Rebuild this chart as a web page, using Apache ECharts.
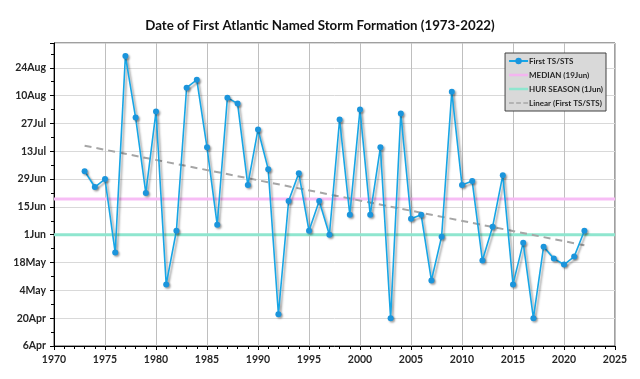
<!DOCTYPE html>
<html><head><meta charset="utf-8">
<script src="https://cdn.jsdelivr.net/npm/echarts@6/dist/echarts.min.js"></script>
<style>html,body{margin:0;padding:0;background:#fff}#c{width:640px;height:379px}</style>
</head><body><div id="c"></div>
<script>
var years = [1973,1974,1975,1976,1977,1978,1979,1980,1981,1982,1983,1984,1985,1986,1987,1988,1989,1990,1991,1992,1993,1994,1995,1996,1997,1998,1999,2000,2001,2002,2003,2004,2005,2006,2007,2008,2009,2010,2011,2012,2013,2014,2015,2016,2017,2018,2019,2020,2021,2022];
var firstDates = ["3Jul","25Jun","29Jun","23May","30Aug","30Jul","22Jun","2Aug","7May","3Jun","14Aug","18Aug","15Jul","6Jun","9Aug","6Aug","26Jun","24Jul","4Jul","22Apr","18Jun","2Jul","3Jun","18Jun","1Jun","29Jul","11Jun","3Aug","11Jun","15Jul","20Apr","1Aug","9Jun","11Jun","9May","31May","12Aug","26Jun","28Jun","19May","5Jun","1Jul","7May","28May","20Apr","26May","20May","17May","21May","3Jun"];
var medianDate = "19Jun";
var seasonDate = "1Jun";
var axisStart = "6Apr";
var MONTHS = ["Jan","Feb","Mar","Apr","May","Jun","Jul","Aug","Sep","Oct","Nov","Dec"];
function toDate(s){var m=s.match(/^(\d+)([A-Za-z]+)$/);return new Date(2021,MONTHS.indexOf(m[2]),+m[1]);}
var base = toDate(axisStart);
function dayOf(s){return Math.round((toDate(s)-base)/86400000);}
function fmt(v){var d=new Date(2021,3,6+Math.round(v));return d.getDate()+MONTHS[d.getMonth()];}
var pts = years.map(function(y,i){return [y, dayOf(firstDates[i])];});
// least-squares trend from the data
var n=pts.length,sx=0,sy=0,sxx=0,sxy=0;
pts.forEach(function(p){sx+=p[0];sy+=p[1];sxx+=p[0]*p[0];sxy+=p[0]*p[1];});
var b=(n*sxy-sx*sy)/(n*sxx-sx*sx), a=(sy-b*sx)/n;
var y0=years[0], y1=years[years.length-1];
var trend=[[y0,a+b*y0],[y1,a+b*y1]];
var chart = echarts.init(document.getElementById('c'));
var lab = {fontFamily:'Lato',fontWeight:'bold',fontSize:10.5,color:'#262626'};
var barIcon = 'path://M0,0L0.01,0L0.01,0.01L0,0.01ZM0,3L24,3L24,6L0,6ZM23.99,8.99L24,8.99L24,9L23.99,9Z';
var dashIcon = 'path://M0,0L0.01,0L0.01,0.01L0,0.01ZM0,3.5L6,3.5L6,5.5L0,5.5ZM9,3.5L15,3.5L15,5.5L9,5.5ZM18,3.5L24,3.5L24,5.5L18,5.5ZM23.99,8.99L24,8.99L24,9L23.99,9Z';
chart.setOption({
  animation:false,
  title:{text:'Date of First Atlantic Named Storm Formation (1973-2022)',left:'center',top:14,
    textStyle:{fontFamily:'Lato',fontWeight:'bold',fontSize:13.3,color:'#111'}},
  grid:{left:54,right:25,top:43,bottom:33,show:true,borderColor:'#404040',borderWidth:1,containLabel:false},
  legend:{orient:'vertical',right:34,top:53,backgroundColor:'#d9d9d9',borderColor:'#404040',borderWidth:1,
    padding:[4,3,4,3],itemGap:6,itemWidth:19,itemHeight:8,
    textStyle:{fontFamily:'Lato',fontWeight:'bold',fontSize:8,color:'#262626',padding:[0,0,0,-4]},
    data:[
      {name:'First TS/STS'},
      {name:'MEDIAN (19Jun)',icon:barIcon,itemStyle:{color:'#f4b4f0'}},
      {name:'HUR SEASON (1Jun)',icon:barIcon,itemStyle:{color:'#8fe6cf'}},
      {name:'Linear (First TS/STS)',icon:dashIcon,itemStyle:{color:'#a6a6a6'}}
    ]},
  xAxis:{type:'value',min:1970,max:2025,interval:5,
    axisLine:{lineStyle:{color:'#000',width:1}},
    axisTick:{show:true,length:4,lineStyle:{color:'#000'}},
    minorTick:{show:true,splitNumber:5,length:3,lineStyle:{color:'#000'}},
    splitLine:{show:true,lineStyle:{color:'#bfbfbf',width:1}},
    axisLabel:Object.assign({margin:8,formatter:function(v){return String(v);}},lab)},
  yAxis:{type:'value',min:0,max:152.5,interval:14,
    axisLine:{show:true,lineStyle:{color:'#000',width:1}},
    axisTick:{show:true,length:4,lineStyle:{color:'#000'}},
    minorTick:{show:true,splitNumber:2,length:3,lineStyle:{color:'#000'}},
    splitLine:{show:true,lineStyle:{color:'#d9d9d9',width:1}},
    axisLabel:Object.assign({margin:8,showMaxLabel:false,formatter:function(v){return fmt(v);}},lab)},
  series:[
    {name:'MEDIAN (19Jun)',type:'line',symbol:'none',silent:true,z:1,
      data:[[1970,dayOf(medianDate)],[2025,dayOf(medianDate)]],
      lineStyle:{color:'#f7bdf5',width:3},itemStyle:{color:'#f7bdf5'}},
    {name:'HUR SEASON (1Jun)',type:'line',symbol:'none',silent:true,z:1,
      data:[[1970,dayOf(seasonDate)],[2025,dayOf(seasonDate)]],
      lineStyle:{color:'#8fe6cf',width:3},itemStyle:{color:'#8fe6cf'}},
    {name:'First TS/STS',type:'line',data:pts,symbol:'circle',symbolSize:6,z:3,
      lineStyle:{color:'#17a6e6',width:1.6,shadowColor:'rgba(0,0,0,0.35)',shadowBlur:2,shadowOffsetX:2,shadowOffsetY:2},
      itemStyle:{color:'#1b95dc',borderColor:'#1b95dc',borderWidth:0,shadowColor:'rgba(0,0,0,0.35)',shadowBlur:2,shadowOffsetX:1.5,shadowOffsetY:1.5}},
    {name:'Linear (First TS/STS)',type:'line',symbol:'none',data:trend,z:2,
      lineStyle:{color:'#a6a6a6',width:2,type:[7,5]},itemStyle:{color:'#a6a6a6'}}
  ]
});
</script></body></html>
